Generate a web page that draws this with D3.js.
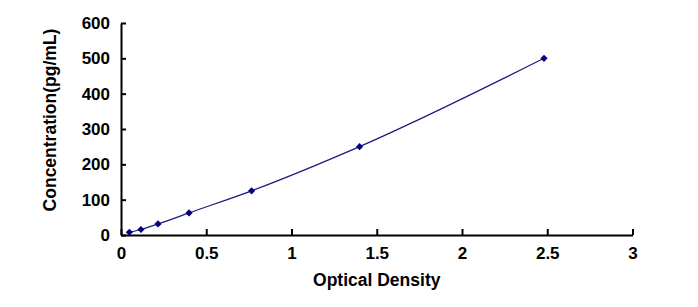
<!DOCTYPE html>
<html>
<head>
  <meta charset="utf8">
  <script src="https://d3js.org/d3.v7.min.js"></script>
  <style>
    body { margin: 0; background: #fff; }
    text { font-family: "Liberation Sans", Arial, sans-serif; font-weight: bold; fill: #000; }
    .tick text { font-size: 17px; }
    .title { font-size: 17.5px; }
  </style>
</head>
<body>
  <svg id="chart" width="698" height="307"></svg>
  <script>
    // standard curve values
    var od = [0.049, 0.117, 0.217, 0.399, 0.766, 1.399, 2.481];
    var conc = [7.8, 15.6, 31.25, 62.5, 125, 250, 500];
    var xTicks = [0, 0.5, 1, 1.5, 2, 2.5, 3];
    var yTicks = [0, 100, 200, 300, 400, 500, 600];

    var svg = d3.select('#chart');
    var mLeft = 121, mRight = 632.5, mTop = 23, mBottom = 235;

    var x = d3.scaleLinear().domain([0, 3]).range([mLeft, mRight]);
    var y = d3.scaleLinear().domain([0, 600]).range([mBottom, mTop]);

    svg.append('g')
      .attr('transform', 'translate(0,' + mBottom + ')')
      .call(d3.axisBottom(x).tickValues(xTicks).tickFormat(d3.format('')).tickSizeInner(-6).tickSizeOuter(0).tickPadding(12));

    svg.append('g')
      .attr('transform', 'translate(' + mLeft + ',0)')
      .call(d3.axisLeft(y).tickValues(yTicks).tickSizeInner(-5).tickSizeOuter(0).tickPadding(11));

    svg.selectAll('.domain, .tick line').attr('stroke', '#000').attr('stroke-width', 2);

    var points = od.map((d, i) => [d, conc[i]]);

    svg.append('path')
      .datum(points)
      .attr('fill', 'none')
      .attr('stroke', '#1a1a80')
      .attr('stroke-width', 1.2)
      .attr('d', d3.line().x((d) => x(d[0])).y((d) => y(d[1])).curve(d3.curveMonotoneX));

    // square turned 45 degrees for an even diamond marker
    var marker = d3.symbol().type(d3.symbolSquare).size(26);
    svg.selectAll('.pt')
      .data(points)
      .enter()
      .append('path')
      .attr('class', 'pt')
      .attr('transform', (d) => 'translate(' + x(d[0]) + ',' + y(d[1]) + ') rotate(45)')
      .attr('d', marker)
      .attr('fill', '#00007a');

    svg.append('text')
      .attr('class', 'title')
      .attr('x', (mLeft + mRight) / 2)
      .attr('y', 286)
      .attr('text-anchor', 'middle')
      .text('Optical Density');

    svg.append('text')
      .attr('class', 'title')
      .attr('transform', 'translate(56,' + 120 + ') rotate(-90)')
      .attr('text-anchor', 'middle')
      .text('Concentration(pg/mL)');
  </script>
</body>
</html>
